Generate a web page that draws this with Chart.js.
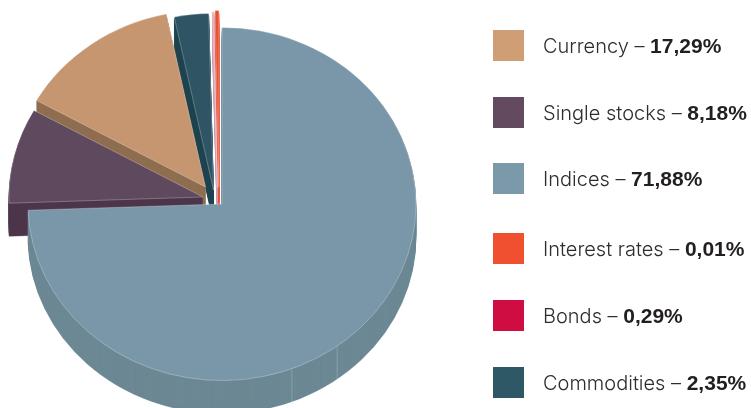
<!DOCTYPE html>
<html>
<head>
<meta charset="utf-8">
<style>
  html, body { margin: 0; padding: 0; background: #fff; overflow: hidden; }
  #wrap { position: relative; width: 751px; height: 408px; }
  #legend div.row { position: absolute; left: 493px; height: 31px; white-space: nowrap; }
  #legend .box { position: absolute; left: 0; top: 0; width: 31px; height: 31px; }
  #legend .txt { position: absolute; left: 50px; top: 0; line-height: 31px;
    font-family: Inter, sans-serif; font-weight: 300; font-size: 20px; color: #2e2c2d; }
  #legend b { font-family: "Liberation Sans", sans-serif; font-weight: 700; font-size: 21px; color: #231f20; }
</style>
</head>
<body>
<div id="wrap">
  <canvas id="pie" width="751" height="408"></canvas>
  <div id="legend"></div>
</div>
<script src="https://cdn.jsdelivr.net/npm/chart.js@4/dist/chart.umd.min.js"></script>
<script>
// legend, as printed
const legendNames = ['Currency', 'Single stocks', 'Indices', 'Interest rates', 'Bonds', 'Commodities'];
const legendValues = ['17,29%', '8,18%', '71,88%', '0,01%', '0,29%', '2,35%'];
const legendColors = ['#cf9e75', '#634a5f', '#7c99aa', '#f15030', '#cf0d42', '#2f5866'];
const legendTops = [30, 97, 163, 233, 300, 367];

// slices clockwise from 12 o'clock. Shares are what the drawing shows, it does
// not follow the printed percentages
const categories = ['Indices', 'Single stocks', 'Currency', 'Commodities', 'Bonds', 'Interest rates'];
const sliceShares = [74.44, 8.72, 13.6, 2.84, 0.1, 0.3];
const topColors = ['#7a97a9', '#5f495e', '#c59670', '#2f5565', '#dca3b3', '#e8502f'];
const sideColors = ['#6c8894', '#4d364b', '#8f6e50', '#1f4450', '#d49aac', '#e8553a'];

// look of the fake 3d
const explode = [[0, 0], [-19, -7], [-16.5, -17], [-8.5, -14], [-4.7, -16], [-3.2, -17]];
const drawOrder = [5, 4, 3, 2, 1, 0];
const squash = 0.91;
const depth = 33;
const seams = [143.6, 158.9];

const tilted3d = {
  id: 'tilted3d',
  beforeDatasetsDraw(chart) {
    const ctx = chart.ctx;
    const arcs = chart.getDatasetMeta(0).data;

    const place = (arc, i, dy) => {
      ctx.translate(explode[i][0], explode[i][1] + dy);
      ctx.translate(arc.x, arc.y);
      ctx.scale(1, squash);
      ctx.translate(-arc.x, -arc.y);
    };

    drawOrder.forEach(i => {
      const arc = arcs[i];
      const faceOptions = arc.options;

      // the wall is the same arc stamped downwards, the stroke closes the seams between stamps
      arc.options = Object.assign({}, faceOptions, {
        backgroundColor: sideColors[i],
        borderColor: sideColors[i],
        borderWidth: 0.4
      });
      for (let dy = depth; dy > 0; dy--) {
        ctx.save();
        place(arc, i, dy);
        arc.draw(ctx);
        ctx.restore();
      }
      arc.options = faceOptions;

      // faint joints in the wall of the big slice
      if (i === 0) {
        ctx.save();
        ctx.strokeStyle = 'rgba(255,255,255,0.2)';
        ctx.lineWidth = 1;
        seams.forEach(a => {
          const t = (a - 90) * Math.PI / 180;
          const x = arc.x + arc.outerRadius * Math.cos(t);
          const y = arc.y + arc.outerRadius * squash * Math.sin(t);
          ctx.beginPath();
          ctx.moveTo(x, y);
          ctx.lineTo(x, y + depth);
          ctx.stroke();
        });
        ctx.restore();
      }

      ctx.save();
      place(arc, i, 0);
      arc.draw(ctx);
      ctx.restore();
    });
    return false;
  }
};

new Chart(document.getElementById('pie'), {
  type: 'pie',
  data: {
    labels: categories,
    datasets: [{
      data: sliceShares,
      backgroundColor: topColors,
      borderColor: 'rgba(255,255,255,0.35)',
      borderWidth: 0.8,
      radius: 194
    }]
  },
  options: {
    responsive: false,
    animation: false,
    layout: { padding: { right: 307 } },
    plugins: { legend: { display: false }, tooltip: { enabled: false } }
  },
  plugins: [tilted3d]
});

const legend = document.getElementById('legend');
legendNames.forEach((name, i) => {
  const row = document.createElement('div');
  row.className = 'row';
  row.style.top = legendTops[i] + 'px';
  row.innerHTML = '<span class="box" style="background:' + legendColors[i] + '"></span>' +
    '<span class="txt">' + name + ' – <b>' + legendValues[i] + '</b></span>';
  legend.appendChild(row);
});
</script>
</body>
</html>
